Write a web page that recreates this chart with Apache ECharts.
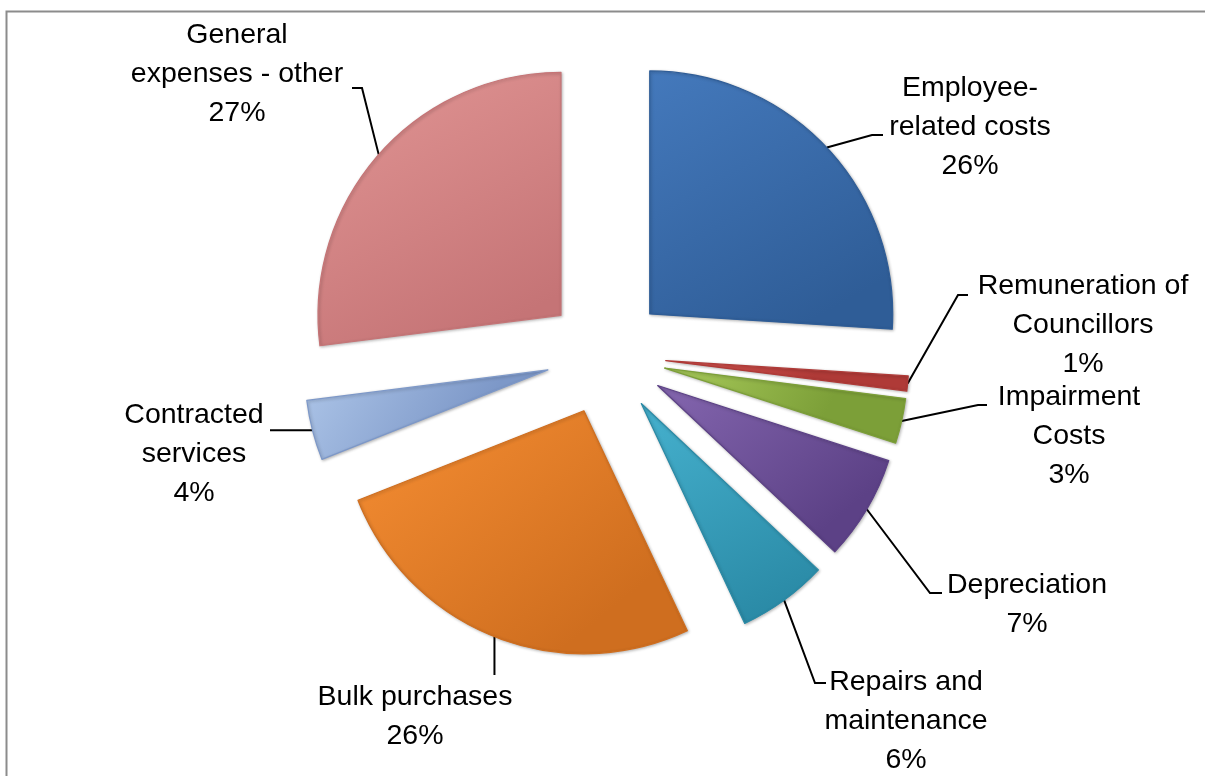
<!DOCTYPE html>
<html>
<head>
<meta charset="utf-8">
<script src="https://cdn.jsdelivr.net/npm/echarts@6/dist/echarts.min.js"></script>
<style>
  html, body { margin: 0; padding: 0; background: #fff; }
  #chart { width: 1205px; height: 776px; }
</style>
</head>
<body>
<div id="chart"></div>
<script>
// Expenditure breakdown (share of total, %)
const categories = [
  'Employee-\nrelated costs',
  'Remuneration of\nCouncillors',
  'Impairment\nCosts',
  'Depreciation',
  'Repairs and\nmaintenance',
  'Bulk purchases',
  'Contracted\nservices',
  'General\nexpenses - other'
];
const values = [26, 1, 3, 7, 6, 26, 4, 27];

// Slice fills: [light, dark] for a bevelled look
const palette = [
  ['#4479BC', '#2F5D97'],
  ['#DC5652', '#AF3A37'],
  ['#A9CB5B', '#7C9F38'],
  ['#8466AF', '#5C4186'],
  ['#46B1CE', '#2A8AA6'],
  ['#F68E33', '#CF6E1F'],
  ['#ADC5E8', '#7D98C8'],
  ['#E19594', '#C57476']
];

// Label block centres and leader-line ends (layout)
const labelPos = [
  { x: 970, y: 127, kind: 'left',  elbow: [872, 135], end: [883, 135] },
  { x: 1083, y: 325, kind: 'left', elbow: [958, 295], end: [968, 295] },
  { x: 1069, y: 436, kind: 'left', elbow: [978, 405], end: [987, 405] },
  { x: 1027, y: 605, kind: 'left', elbow: [930, 593], end: [942, 593] },
  { x: 906, y: 721, kind: 'left',  elbow: [815, 683], end: [826, 683] },
  { x: 415, y: 717, kind: 'down',  end: 675 },
  { x: 194, y: 454, kind: 'horiz', end: 270 },
  { x: 237, y: 74, kind: 'left',   elbow: [362, 88], end: [352, 88] }
];

const CX = 606, CY = 355, R = 243, EXPLODE = 60;

const total = values.reduce((s, v) => s + v, 0);
const geo = [];
let acc = 0;
values.forEach((v) => {
  const a0 = acc / total * Math.PI * 2;
  acc += v;
  const a1 = acc / total * Math.PI * 2;
  const mid = (a0 + a1) / 2;
  const ux = Math.sin(mid), uy = -Math.cos(mid);
  const cx = CX + EXPLODE * ux, cy = CY + EXPLODE * uy;
  geo.push({ center: [cx, cy], arc: [cx + R * ux, cy + R * uy] });
});

const baseData = categories.map((name, i) => ({ name, value: values[i] }));

const series = categories.map((_, k) => ({
  type: 'pie',
  center: geo[k].center,
  radius: R,
  startAngle: 90,
  clockwise: true,
  percentPrecision: 0,
  avoidLabelOverlap: false,
  silent: true,
  z: 2,
  data: baseData.map((d, i) => i === k ? {
    name: d.name,
    value: d.value,
    itemStyle: {
      color: {
        type: 'linear', x: 0, y: 0, x2: 0.6, y2: 1,
        colorStops: [
          { offset: 0, color: palette[i][0] },
          { offset: 1, color: palette[i][1] }
        ]
      },
      borderColor: palette[i][1],
      borderWidth: 1.2,
      shadowColor: 'rgba(0,0,0,0.25)',
      shadowBlur: 3,
      shadowOffsetX: 1,
      shadowOffsetY: 1
    },
    label: { show: true },
    labelLine: { show: true }
  } : {
    name: d.name,
    value: d.value,
    itemStyle: { color: 'rgba(0,0,0,0)', borderWidth: 0 },
    label: { show: false },
    labelLine: { show: false }
  }),
  label: {
    position: 'outside',
    formatter: p => p.name + '\n' + p.percent + '%',
    fontFamily: 'Liberation Sans',
    fontSize: 28.5,
    lineHeight: 39,
    color: '#000',
    align: 'center'
  },
  labelLine: {
    show: true,
    lineStyle: { color: '#000', width: 2 }
  },
  labelLayout: function (params) {
    if (params.dataIndex !== k) return {};
    const L = labelPos[k];
    const s = geo[k].arc;
    let pts;
    if (L.kind === 'down') {
      pts = [s, [s[0], (s[1] + L.end) / 2], [s[0], L.end]];
    } else if (L.kind === 'horiz') {
      pts = [s, [(s[0] + L.end) / 2, s[1]], [L.end, s[1]]];
    } else {
      pts = [s, L.elbow, L.end];
    }
    return {
      x: L.x, y: L.y, align: 'center', verticalAlign: 'middle',
      labelLinePoints: pts
    };
  }
}));

const chart = echarts.init(document.getElementById('chart'), null, { renderer: 'canvas' });
chart.setOption({
  animation: false,
  backgroundColor: '#fff',
  graphic: [{
    type: 'rect',
    left: 4, top: 9,
    shape: { width: 1220, height: 800 },
    style: { fill: 'none', stroke: '#8c8c8c', lineWidth: 2 },
    z: 0
  }],
  series
});
</script>
</body>
</html>
